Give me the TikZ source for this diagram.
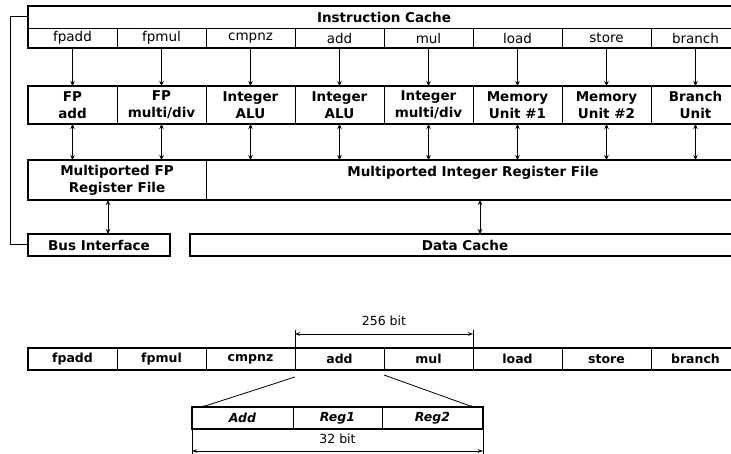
\documentclass[tikz,border=0pt]{standalone}
\usepackage{fontspec}
\setmainfont{DejaVu Sans}
\usetikzlibrary{arrows.meta,calc}

\begin{document}
\begin{tikzpicture}[x=1pt, y=-1pt,
  every node/.style={inner sep=0pt, outer sep=0pt},
  cell/.style={draw, line width=0.9pt, minimum width=89, minimum height=20, font=\fontsize{13.5}{16}\selectfont},
  unit/.style={cell, minimum height=38, align=center, font=\fontsize{13.5}{17}\selectfont\bfseries},
  word/.style={cell, minimum height=22, font=\fontsize{12.5}{15}\selectfont\bfseries},
  field/.style={cell, minimum height=22, font=\fontsize{12.5}{15}\selectfont\bfseries\itshape},
  outline/.style={line width=2.2pt},
  flow/.style={line width=1pt, -{Stealth[length=5pt,width=4.5pt]}},
  twoway/.style={line width=1pt, {Stealth[length=5pt,width=4.5pt]}-{Stealth[length=5pt,width=4.5pt]}},
  dim/.style={line width=0.8pt, {Stealth[length=5pt,width=3.5pt]}-{Stealth[length=5pt,width=3.5pt]}},
  fan/.style={line width=0.8pt, -{Stealth[length=3pt,width=2.5pt]}}]
\useasboundingbox (0,0) rectangle (731,454);
\clip (0,0) rectangle (731,454);

% instruction cache
\node[cell, minimum width=712, minimum height=22, font=\fontsize{13.5}{16}\selectfont\bfseries] (ic) at (384,17) {Instruction Cache};
\node[cell] (s1) at (72.5,38) {fpadd};
\node[cell] (s2) at (161.5,38) {fpmul};
\node[cell] (s3) at (250.5,38) {cmpnz};
\node[cell] (s4) at (339.5,38) {add};
\node[cell] (s5) at (428.5,38) {mul};
\node[cell] (s6) at (517.5,38) {load};
\node[cell] (s7) at (606.5,38) {store};
\node[cell] (s8) at (695.5,38) {branch};
\draw[outline] (ic.north west) rectangle (s8.south east);

% functional units
\node[unit] (u1) at (72.5,105) {FP\\add};
\node[unit] (u2) at (161.5,105) {FP\\multi/div};
\node[unit] (u3) at (250.5,105) {Integer\\ALU};
\node[unit] (u4) at (339.5,105) {Integer\\ALU};
\node[unit] (u5) at (428.5,105) {Integer\\multi/div};
\node[unit] (u6) at (517.5,105) {Memory\\Unit \#1};
\node[unit] (u7) at (606.5,105) {Memory\\Unit \#2};
\node[unit] (u8) at (695.5,105) {Branch\\Unit};
\draw[outline] (u1.north west) rectangle (u8.south east);

% register files
\node[unit, minimum width=178, minimum height=40] (fpreg) at (117,180) {Multiported FP\\Register File};
\node[unit, minimum width=534, minimum height=40] (intreg) at (473,180) {Multiported Integer Register File\\\mbox{}};
\draw[outline] (fpreg.north west) rectangle (intreg.south east);

% bus and data cache
\node[unit, minimum width=142, minimum height=22] (bus) at (99,245) {Bus Interface};
\node[unit, minimum width=550, minimum height=22] (dc) at (465,245) {Data Cache};
\draw[outline] (bus.north west) rectangle (bus.south east);
\draw[outline] (dc.north west) rectangle (dc.south east);

\draw[flow] (s1) -- (u1);
\draw[flow] (s2) -- (u2);
\draw[flow] (s3) -- (u3);
\draw[flow] (s4) -- (u4);
\draw[flow] (s5) -- (u5);
\draw[flow] (s6) -- (u6);
\draw[flow] (s7) -- (u7);
\draw[flow] (s8) -- (u8);

\draw[twoway] (u1.south) -- (u1.south |- fpreg.north);
\draw[twoway] (u2.south) -- (u2.south |- fpreg.north);
\draw[twoway] (u3.south) -- (u3.south |- intreg.north);
\draw[twoway] (u4.south) -- (u4.south |- intreg.north);
\draw[twoway] (u5.south) -- (u5.south |- intreg.north);
\draw[twoway] (u6.south) -- (u6.south |- intreg.north);
\draw[twoway] (u7.south) -- (u7.south |- intreg.north);
\draw[twoway] (u8.south) -- (u8.south |- intreg.north);
\draw[twoway] ([xshift=-9pt]fpreg.south) -- ([xshift=-9pt]fpreg.south |- bus.north);
\draw[twoway] ([xshift=7pt]intreg.south) -- ([xshift=7pt]intreg.south |- dc.north);

\draw[line width=1pt] (ic.west) -- ++(-18,0) |- (bus.west);

% instruction word
\node[word] (w1) at (72.5,359) {fpadd};
\node[word] (w2) at (161.5,359) {fpmul};
\node[word] (w3) at (250.5,359) {cmpnz};
\node[word] (w4) at (339.5,359) {add};
\node[word] (w5) at (428.5,359) {mul};
\node[word] (w6) at (517.5,359) {load};
\node[word] (w7) at (606.5,359) {store};
\node[word] (w8) at (695.5,359) {branch};
\draw[outline] (w1.north west) rectangle (w8.south east);

\draw[line width=0.8pt] (w4.north west) -- ++(0,-18);
\draw[line width=0.8pt] (w5.north east) -- ++(0,-18);
\draw[dim] ($(w4.north west)+(0,-14)$) -- ($(w5.north east)+(0,-14)$)
  node[midway, yshift=13pt, font=\fontsize{12.5}{15}\selectfont] {256 bit};

% one operation
\node[field, minimum width=101] (a1) at (242.5,418) {Add};
\node[field] (a2) at (337.5,418) {Reg1};
\node[field, minimum width=101] (a3) at (432.5,418) {Reg2};
\draw[outline] (a1.north west) rectangle (a3.south east);

\draw[fan] ($(w4.south west)+(0,7)$) -- ($(a1.north west)+(10,0)$);
\draw[fan] ($(w4.south east)+(0,5)$) -- ($(a3.north east)+(-10,0)$);

\draw[line width=0.8pt] (a1.south west) -- ++(0,25);
\draw[line width=0.8pt] (a3.south east) -- ++(0,25);
\draw[dim] ($(a1.south west)+(0,22)$) -- ($(a3.south east)+(0,22)$)
  node[midway, yshift=12pt, font=\fontsize{12.5}{15}\selectfont] {32 bit};
\end{tikzpicture}
\end{document}
